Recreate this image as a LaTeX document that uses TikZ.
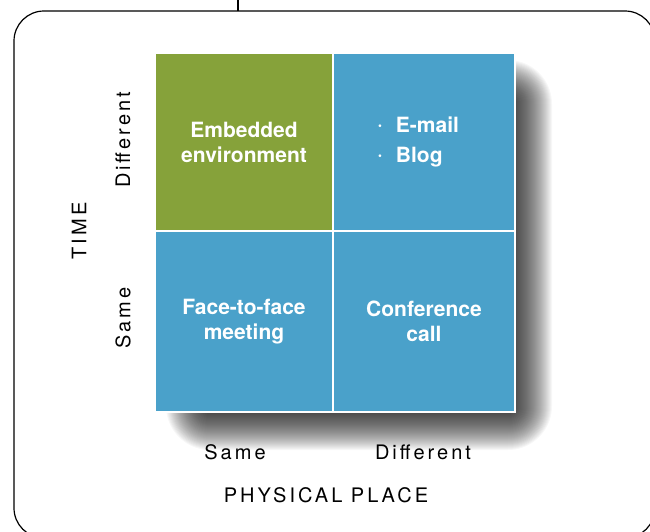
\documentclass[tikz,border=0pt]{standalone}
\usepackage{fontspec}
\setmainfont{TeX Gyre Heros}
\newfontfamily\axisfont[LetterSpace=15]{TeX Gyre Heros}
\usepackage{tikz}
\usetikzlibrary{positioning, backgrounds}
\usepackage{xcolor}

\definecolor{leaf}{RGB}{134,162,58}
\definecolor{sky}{RGB}{74,161,202}

\newcommand{\dotitem}{{\fontsize{11}{11}\selectfont\raisebox{2.5pt}{\textbullet}}\hspace{14pt}}

\begin{document}
\begin{tikzpicture}[x=1pt, y=1pt,
  cell/.style={draw=white, line width=1.8pt, inner sep=0pt, text=white,
    align=center, font=\bfseries\fontsize{21}{25}\selectfont},
  axis/.style={font=\axisfont\fontsize{20}{24}\selectfont, inner sep=0pt},
  frame/.style={draw=black, line width=1.2pt},
  haze/.style={fill=black, opacity=0.03}
]
  \useasboundingbox (0,0) rectangle (650,-531);

  % outer frame and the lead coming in from above
  \draw[frame, rounded corners=30pt] (14,-11) rectangle (655,-538);
  \coordinate (leadtop)  at (238,0);
  \coordinate (leadfoot) at (238,-11);
  \draw[frame] (leadtop) -- (leadfoot);

  % the four quadrants
  \node[cell, fill=leaf, minimum width=178pt, minimum height=178pt]
    (embed) at (244,-142) {Embedded\\environment};
  \node[cell, fill=sky, minimum width=182pt, minimum height=178pt]
    (async) at (424,-142) {\begin{tabular}{@{}l@{\hspace{11pt}}}
      \dotitem E-mail\\[5pt]
      \dotitem Blog\end{tabular}};
  \node[cell, fill=sky, minimum width=178pt, minimum height=181pt]
    (face)  at (244,-321.5) {Face-to-face\\meeting};
  \node[cell, fill=sky, minimum width=182pt, minimum height=181pt]
    (conf)  at (424,-321.5) {Conference\\call};

  % soft drop shadow: stacked faint rectangles
  \begin{scope}[on background layer]
    \foreach \r in {1,...,44}
      \fill[haze, rounded corners=\r pt]
        ({210-\r},{-104+\r}) rectangle ({508+\r},{-406-\r});
  \end{scope}

  % axis labels
  \node[axis] (psame) at (235,-452) {Same};
  \node[axis] (pdiff) at (423,-452) {Different};
  \node[axis] (place) at (326,-495) {PHYSICAL PLACE};
  \node[axis, rotate=90] (tdiff) at (123,-140) {Different};
  \node[axis, rotate=90] (tsame) at (123,-318) {Same};
  \node[axis, rotate=90] (time)  at (79,-231)  {TIME};
\end{tikzpicture}
\end{document}
